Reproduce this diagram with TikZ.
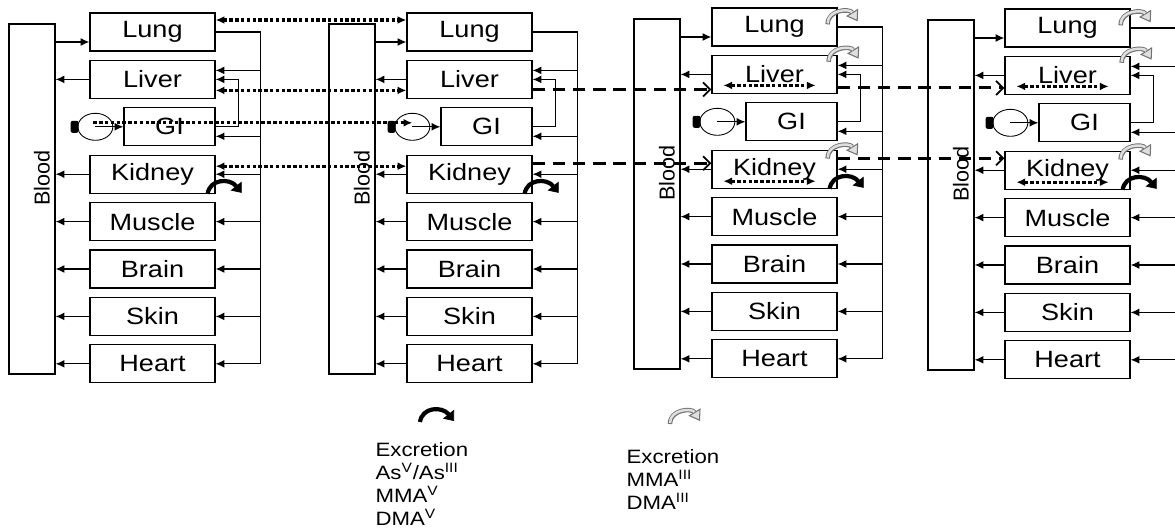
\documentclass[tikz,border=0pt]{standalone}
\usepackage{fontspec}
\setmainfont{Liberation Sans}
\newfontfamily\widesans[FakeStretch=1.15]{Liberation Sans}
\usetikzlibrary{calc, shapes.geometric, arrows.meta, positioning}

% Một khối mô hình: máu, các cơ quan, đường hồi lưu
\newcommand{\organpanel}[4]{%
  \node[bloodbox] (#1blood) at ({#2+23},{#4+167}) {};
  \node[bloodlbl] (#1bloodlbl) at ({#2+33},{#4+146}) {Blood};
  \foreach \org/\lbl/\k in {lung/Lung/0, liver/Liver/1, kidney/Kidney/3,
      muscle/Muscle/4, brain/Brain/5, skin/Skin/6, heart/Heart/7}
    \node[organ] (#1\org) at ({#3+62.5},{#4+47.4*\k}) {\lbl};
  \node[gibox] (#1gi) at ({#3+79.5},{#4+94.8}) {GI};
  \node[gut] (#1circ) at ($(#1gi.west)+(-28,0)$) {};
  \node[gutport, left=-1pt of #1circ] (#1port) {};
  \draw[->] (#1circ.center) -- (#1gi.west);
  % máu -> phổi, cơ quan -> máu
  \draw[->] ($(#1lung.west -| #1blood.east)+(0,10)$) -- ($(#1lung.west)+(0,10)$);
  \foreach \org in {liver, kidney, muscle, brain, skin, heart}
    \draw[->] (#1\org.west) -- (#1\org.west -| #1blood.east);
  % đường hồi lưu
  \draw (#1lung.east) -- ++(45,0) coordinate (#1rtop) -- (#1rtop |- #1heart.east);
  \foreach \org in {kidney, muscle, brain, skin, heart}
    \draw[->] (#1rtop |- #1\org.east) -- (#1\org.east);
  \draw[->] ($(#1rtop |- #1liver.east)+(0,-9)$) -- ($(#1liver.east)+(0,-9)$);
  \draw[->] ($(#1rtop |- #1gi.east)+(0,9.5)$) -- ($(#1gi.east)+(0,9.5)$);
  \draw[->] (#1gi.east) -- ++(23,0) |- (#1liver.east);
}

% Mũi tên bài tiết
\newcommand{\excrdark}[1]{%
  \draw[darkexcr] ($(#1)+(-8,0)$) .. controls ($(#1)+(-6,-15)$) and ($(#1)+(14,-16)$) .. ($(#1)+(26,-1)$);}
\newcommand{\excrlight}[1]{%
  \draw[lightexcr] ($(#1)+(-10,12)$) .. controls ($(#1)+(-10,-3)$) and ($(#1)+(12,-4)$) .. ($(#1)+(20,9)$);
  \draw[lightcore] ($(#1)+(-10,11)$) .. controls ($(#1)+(-10,-3)$) and ($(#1)+(12,-4)$) .. ($(#1)+(20,9)$);}

\begin{document}
\begin{tikzpicture}[x=0.02cm, y=-0.02cm, line width=0.65pt,
    >={Latex[length=5pt,width=4.5pt]},
    organ/.style={draw, line width=0.75pt, minimum width=2.5cm, minimum height=0.76cm,
      inner sep=0pt, font=\widesans\fontsize{13.4pt}{15pt}\selectfont},
    gibox/.style={organ, minimum width=1.82cm},
    bloodbox/.style={draw, line width=0.75pt, minimum width=0.92cm, minimum height=7cm, inner sep=0pt},
    bloodlbl/.style={rotate=90, inner sep=0pt, font=\fontsize{12.3pt}{14pt}\selectfont},
    gut/.style={ellipse, draw, line width=0.5pt, minimum width=0.7cm, minimum height=0.54cm, inner sep=0pt},
    gutport/.style={fill=black, minimum width=0.16cm, minimum height=0.24cm, inner sep=0pt, rounded corners=1.2pt},
    dotconn/.style={line width=1.8pt, dash pattern=on 2pt off 1.3pt},
    dashconn/.style={line width=1.8pt, dash pattern=on 7pt off 4.5pt,
      -{Straight Barb[length=4pt,width=8pt,line width=1pt]}},
    darkexcr/.style={line width=2.4pt, -{Triangle[length=5pt,width=8pt,line width=0.4pt]}},
    lightexcr/.style={line width=2.6pt, black!55, -{Triangle[length=6pt,width=8pt,line width=0.6pt,fill=gray!25]}},
    lightcore/.style={line width=1.4pt, gray!25, shorten >=6pt},
    keytext/.style={anchor=north west, align=left, inner sep=0pt,
      font=\widesans\fontsize{11pt}{13pt}\selectfont}]
    \useasboundingbox (0,0) rectangle (1175,528);

    % Bốn khối mô hình
    \organpanel{a}{9}{90}{32}
    \organpanel{b}{329}{407}{32}
    \organpanel{c}{634}{712}{27}
    \organpanel{d}{928}{1005}{28}

    % Nối chấm giữa khối 1 và khối 2
    \draw[dotconn, <->] ($(alung.east)+(0,-12)$) -- ($(blung.west)+(0,-12)$);
    \draw[dotconn, <->] ($(aliver.east)+(0,11)$) -- ($(bliver.west)+(0,11)$);
    \draw[dotconn, <->] ($(akidney.east)+(0,-8)$) -- ($(bkidney.west)+(0,-8)$);
    \draw[dotconn, ->] ($(acirc.center)+(-2,-4)$) -- ($(bcirc.center)+(0,-4)$);

    % Nối gạch sang khối 3 và khối 4
    \coordinate (lvA) at ($(bliver.east)+(0,10)$);
    \coordinate (lvB) at ($(cliver.east)+(0,13.5)$);
    \coordinate (kdA) at ($(bkidney.east)+(0,-11)$);
    \coordinate (kdB) at ($(ckidney.east)+(0,-11)$);
    \draw[dashconn] (lvA) -- (lvA -| cliver.west);
    \draw[dashconn] (lvB) -- (lvB -| dliver.west);
    \draw[dashconn] (kdA) -- (kdA -| ckidney.west);
    \draw[dashconn] (kdB) -- (kdB -| dkidney.west);

    % Mũi tên chấm trong gan và thận
    \foreach \p in {c, d}
      \foreach \org/\dy in {liver/11, kidney/12}
        \draw[dotconn, <->] ($(\p\org.west)+(12,\dy)$) -- ($(\p\org.east)+(-22,\dy)$);

    % Bài tiết
    \foreach \p in {a, b, c, d} {
      \excrdark{\p kidney.south east}
    }
    \foreach \p in {c, d} {
      \coordinate (\p lungx) at ($(\p lung.north east)+(0,5)$);
      \coordinate (\p liverx) at ($(\p liver.north east)+(1,-5)$);
      \coordinate (\p kidneyx) at ($(\p kidney.north east)+(0,-3)$);
    }
    \foreach \p in {c, d} {
      \foreach \org in {lung, liver, kidney} {
        \excrlight{\p\org x}
      }
    }

    % Chú thích
    \coordinate (keydark) at (428,422);
    \coordinate (keylight) at (680,412);
    \excrdark{keydark}
    \excrlight{keylight}
    \node[keytext] (keydarktxt) at (375,442)
      {Excretion\\As\textsuperscript{V}/As\textsuperscript{III}\\MMA\textsuperscript{V}\\DMA\textsuperscript{V}};
    \node[keytext] (keylighttxt) at (626,449)
      {Excretion\\MMA\textsuperscript{III}\\DMA\textsuperscript{III}};
\end{tikzpicture}
\end{document}
